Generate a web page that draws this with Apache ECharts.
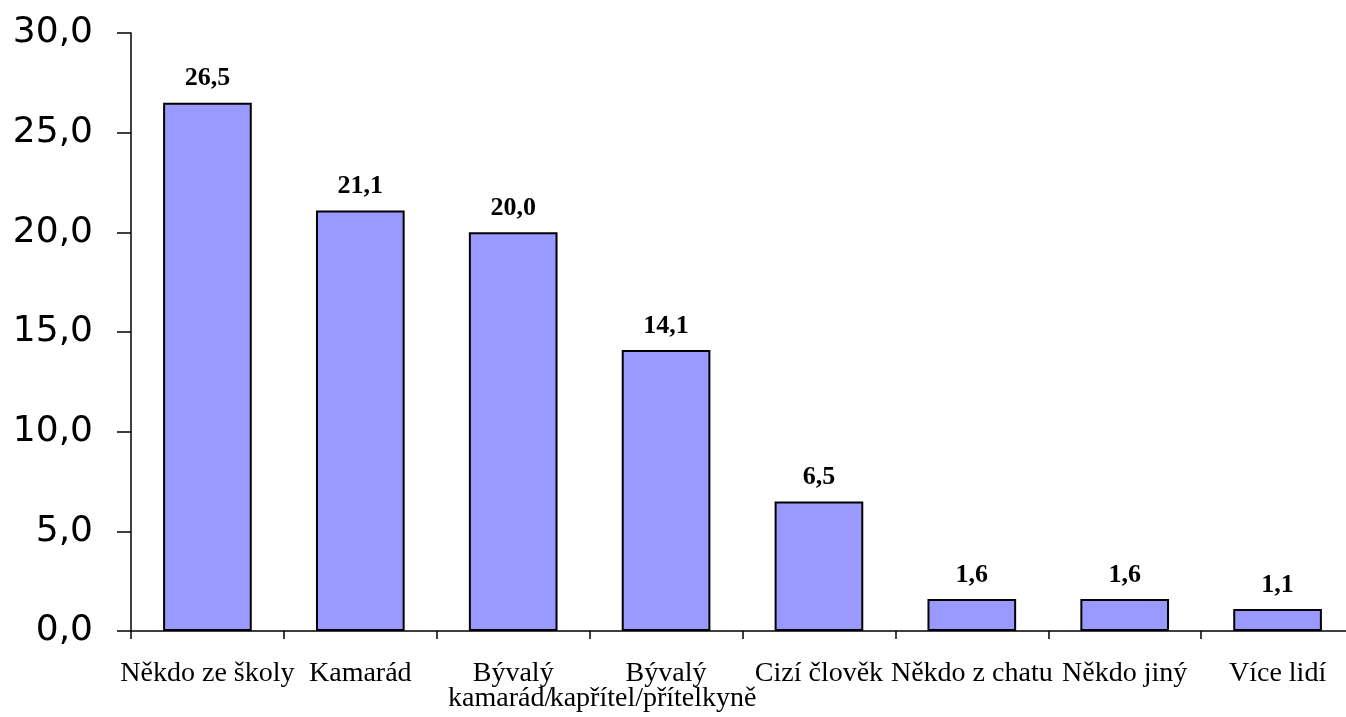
<!DOCTYPE html>
<html>
<head>
<meta charset="utf-8">
<script src="https://cdn.jsdelivr.net/npm/echarts@6/dist/echarts.min.js"></script>
<style>
html,body{margin:0;padding:0;background:#fff;}
#chart{width:1346px;height:717px;}
</style>
</head>
<body>
<div id="chart"></div>
<script>
const categories = ['Někdo ze školy', 'Kamarád', 'Bývalý\nkamarád/', 'Bývalý\nkapřítel/přítelkyně', 'Cizí člověk', 'Někdo z chatu', 'Někdo jiný', 'Více lidí'];
const values = [26.5, 21.1, 20.0, 14.1, 6.5, 1.6, 1.6, 1.1];
const yTicks = { min: 0, max: 30, interval: 5 };

const fmt = v => v.toFixed(1).replace('.', ',');
const catFont = { fontFamily: 'Liberation Serif', fontSize: 28, lineHeight: 25, color: '#000' };

const chart = echarts.init(document.getElementById('chart'), null, { renderer: 'canvas' });
chart.setOption({
  animation: false,
  backgroundColor: '#ffffff',
  grid: { left: 131, top: 33, bottom: 86, width: 1223, containLabel: false, outerBoundsMode: 'none' },
  xAxis: {
    type: 'category',
    data: categories,
    boundaryGap: true,
    axisLine: { show: true, lineStyle: { color: '#000', width: 1.5 } },
    axisTick: { show: true, alignWithLabel: false, length: 8, lineStyle: { color: '#000', width: 1.5 } },
    axisLabel: Object.assign({
      interval: 0,
      margin: 30,
      formatter: v => {
        const parts = v.split('\n');
        if (parts.length === 1) return '{a|' + v + '}';
        return '{a|' + parts[0] + '}\n{b|' + parts[1] + '}';
      },
      rich: {
        a: Object.assign({}, catFont),
        b: Object.assign({ padding: [0, 26, 0, 0] }, catFont)
      }
    }, catFont),
    splitLine: { show: false }
  },
  yAxis: {
    type: 'value',
    min: yTicks.min,
    max: yTicks.max,
    interval: yTicks.interval,
    axisLine: { show: true, lineStyle: { color: '#000', width: 1.5 } },
    axisTick: { show: true, inside: false, length: 14, lineStyle: { color: '#000', width: 1.5 } },
    axisLabel: {
      margin: 38,
      color: '#000',
      fontFamily: 'DejaVu Sans',
      fontSize: 36,
      padding: [5, 0, 0, 0],
      formatter: v => fmt(v)
    },
    splitLine: { show: false }
  },
  series: [{
    type: 'bar',
    data: values,
    barWidth: '58%',
    itemStyle: { color: '#9999FF', borderColor: '#000', borderWidth: 2 },
    label: {
      show: true,
      position: 'top',
      distance: 11,
      color: '#000',
      fontFamily: 'Liberation Serif',
      fontWeight: 'bold',
      fontSize: 26,
      formatter: p => fmt(p.value)
    }
  }]
});
</script>
</body>
</html>
